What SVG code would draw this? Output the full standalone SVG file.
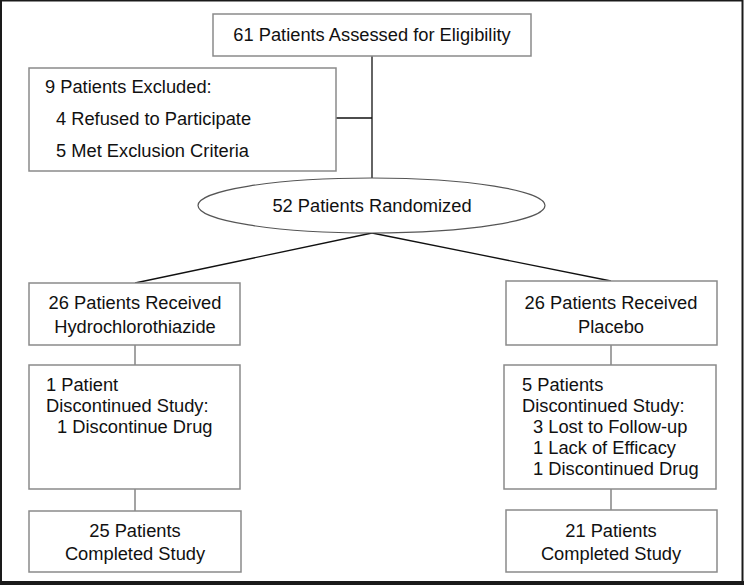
<svg xmlns="http://www.w3.org/2000/svg" width="744" height="585" viewBox="0 0 744 585">
<style>
.box{fill:#fff;stroke:#8a8a8a;stroke-width:1.5}
.ln{fill:none;stroke:#111;stroke-width:1.3}
.lg{fill:none;stroke:#666;stroke-width:1.2}
text{font-family:"Liberation Sans",Arial,sans-serif;font-size:18.3px;fill:#111}
.c{text-anchor:middle}
</style>
<rect x="0" y="0" width="744" height="585" fill="#fff"/>
<rect x="1" y="0.5" width="741.5" height="582.5" fill="none" stroke="#1a1a1a" stroke-width="2"/>
<rect x="0" y="581" width="744" height="4" fill="#1a1a1a"/>
<g id="connectors">
<line class="ln" x1="372" y1="56" x2="372" y2="178"/>
<line class="ln" x1="336" y1="118" x2="372" y2="118"/>
<line class="ln" x1="372" y1="233" x2="135" y2="283"/>
<line class="ln" x1="372" y1="233" x2="611" y2="281"/>
<line class="lg" x1="135" y1="345" x2="135" y2="365"/>
<line class="lg" x1="135" y1="489" x2="135" y2="511"/>
<line class="lg" x1="611" y1="345" x2="611" y2="365"/>
<line class="lg" x1="611" y1="489" x2="611" y2="510"/>
</g>
<g id="assessed">
<rect class="box" x="213" y="14" width="318" height="42"/>
<text class="c" x="372" y="41">61 Patients Assessed for Eligibility</text>
</g>
<g id="excluded">
<rect class="box" x="29" y="68" width="307" height="103"/>
<text x="45" y="93">9 Patients Excluded:</text>
<text x="56" y="125">4 Refused to Participate</text>
<text x="56" y="157">5 Met Exclusion Criteria</text>
</g>
<g id="randomized">
<ellipse cx="371.5" cy="205.5" rx="173.5" ry="27.5" fill="#fff" stroke="#555" stroke-width="1.2"/>
<text class="c" x="372" y="212">52 Patients Randomized</text>
</g>
<g id="hctz">
<rect class="box" x="29" y="283" width="211" height="62"/>
<text class="c" x="135" y="309">26 Patients Received</text>
<text class="c" x="135" y="333">Hydrochlorothiazide</text>
</g>
<g id="hctz-disc">
<rect class="box" x="29" y="365" width="211" height="124"/>
<text x="46" y="391">1 Patient</text>
<text x="46" y="412">Discontinued Study:</text>
<text x="57" y="433">1 Discontinue Drug</text>
</g>
<g id="hctz-done">
<rect class="box" x="29" y="511" width="212" height="61"/>
<text class="c" x="135" y="537">25 Patients</text>
<text class="c" x="135" y="560">Completed Study</text>
</g>
<g id="placebo">
<rect class="box" x="506" y="281" width="211" height="64"/>
<text class="c" x="611" y="309">26 Patients Received</text>
<text class="c" x="611" y="333">Placebo</text>
</g>
<g id="placebo-disc">
<rect class="box" x="504" y="365" width="212" height="124"/>
<text x="522" y="391">5 Patients</text>
<text x="522" y="412">Discontinued Study:</text>
<text x="533" y="433">3 Lost to Follow-up</text>
<text x="533" y="454">1 Lack of Efficacy</text>
<text x="533" y="475">1 Discontinued Drug</text>
</g>
<g id="placebo-done">
<rect class="box" x="506" y="510" width="211" height="62"/>
<text class="c" x="611" y="537">21 Patients</text>
<text class="c" x="611" y="560">Completed Study</text>
</g>
</svg>
